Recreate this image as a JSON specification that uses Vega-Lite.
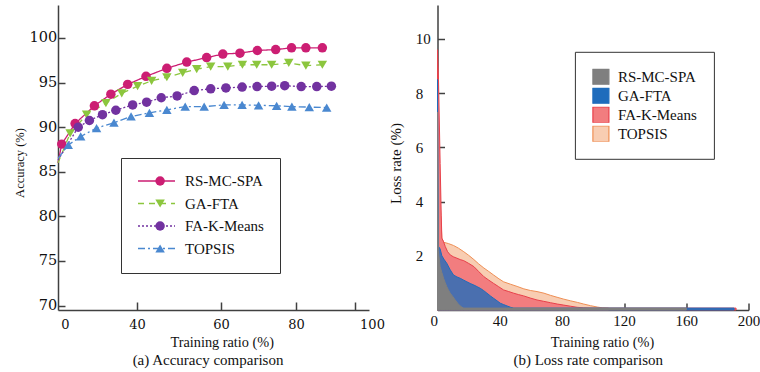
{
  "$schema": "https://vega.github.io/schema/vega-lite/v6.json",
  "padding": {"left": 13, "top": 5, "right": 0, "bottom": 0},
  "bounds": "flush",
  "spacing": 68.5,
  "config": {
    "view": {"stroke": null},
    "axis": {"domainColor": "#404040", "tickColor": "#404040", "domainWidth": 1.5, "tickWidth": 1.5, "labelColor": "#111", "titleColor": "#111", "grid": false, "labelFlush": false, "labelOverlap": false, "zindex": 1}
  },
  "datasets": {
    "acc": [
      {"series": "RS-MC-SPA", "ratio": 0, "value": 86.0},
      {"series": "RS-MC-SPA", "ratio": 1.2, "value": 88.1},
      {"series": "RS-MC-SPA", "ratio": 5.5, "value": 90.4},
      {"series": "RS-MC-SPA", "ratio": 11.7, "value": 92.4},
      {"series": "RS-MC-SPA", "ratio": 17.0, "value": 93.7},
      {"series": "RS-MC-SPA", "ratio": 22.4, "value": 94.8},
      {"series": "RS-MC-SPA", "ratio": 28.3, "value": 95.7},
      {"series": "RS-MC-SPA", "ratio": 35.0, "value": 96.6},
      {"series": "RS-MC-SPA", "ratio": 41.4, "value": 97.3},
      {"series": "RS-MC-SPA", "ratio": 47.8, "value": 97.8},
      {"series": "RS-MC-SPA", "ratio": 53.0, "value": 98.2},
      {"series": "RS-MC-SPA", "ratio": 58.5, "value": 98.3},
      {"series": "RS-MC-SPA", "ratio": 64.1, "value": 98.6},
      {"series": "RS-MC-SPA", "ratio": 70.0, "value": 98.7},
      {"series": "RS-MC-SPA", "ratio": 75.1, "value": 98.9},
      {"series": "RS-MC-SPA", "ratio": 79.7, "value": 98.9},
      {"series": "RS-MC-SPA", "ratio": 85.0, "value": 98.9},
      {"series": "GA-FTA", "ratio": 0, "value": 86.0},
      {"series": "GA-FTA", "ratio": 3.9, "value": 89.3},
      {"series": "GA-FTA", "ratio": 9.2, "value": 91.4},
      {"series": "GA-FTA", "ratio": 15.4, "value": 92.7},
      {"series": "GA-FTA", "ratio": 20.5, "value": 93.8},
      {"series": "GA-FTA", "ratio": 25.6, "value": 94.6},
      {"series": "GA-FTA", "ratio": 30.1, "value": 95.2},
      {"series": "GA-FTA", "ratio": 35.0, "value": 95.6},
      {"series": "GA-FTA", "ratio": 40.1, "value": 96.1},
      {"series": "GA-FTA", "ratio": 44.6, "value": 96.5},
      {"series": "GA-FTA", "ratio": 49.1, "value": 96.8},
      {"series": "GA-FTA", "ratio": 54.6, "value": 96.8},
      {"series": "GA-FTA", "ratio": 59.3, "value": 97.0},
      {"series": "GA-FTA", "ratio": 63.9, "value": 97.0},
      {"series": "GA-FTA", "ratio": 68.7, "value": 97.0},
      {"series": "GA-FTA", "ratio": 74.2, "value": 97.2},
      {"series": "GA-FTA", "ratio": 79.7, "value": 96.9},
      {"series": "GA-FTA", "ratio": 85.0, "value": 97.0},
      {"series": "FA-K-Means", "ratio": 0, "value": 86.3},
      {"series": "FA-K-Means", "ratio": 6.5, "value": 90.0},
      {"series": "FA-K-Means", "ratio": 10.1, "value": 90.75},
      {"series": "FA-K-Means", "ratio": 14.3, "value": 91.4},
      {"series": "FA-K-Means", "ratio": 18.6, "value": 91.9},
      {"series": "FA-K-Means", "ratio": 24.0, "value": 92.5},
      {"series": "FA-K-Means", "ratio": 28.5, "value": 92.8},
      {"series": "FA-K-Means", "ratio": 33.2, "value": 93.3},
      {"series": "FA-K-Means", "ratio": 38.3, "value": 93.5},
      {"series": "FA-K-Means", "ratio": 43.8, "value": 94.1},
      {"series": "FA-K-Means", "ratio": 49.1, "value": 94.3},
      {"series": "FA-K-Means", "ratio": 54.0, "value": 94.4},
      {"series": "FA-K-Means", "ratio": 59.2, "value": 94.5},
      {"series": "FA-K-Means", "ratio": 64.0, "value": 94.55},
      {"series": "FA-K-Means", "ratio": 68.7, "value": 94.6},
      {"series": "FA-K-Means", "ratio": 72.9, "value": 94.65},
      {"series": "FA-K-Means", "ratio": 78.2, "value": 94.55},
      {"series": "FA-K-Means", "ratio": 83.2, "value": 94.55},
      {"series": "FA-K-Means", "ratio": 87.9, "value": 94.6},
      {"series": "TOPSIS", "ratio": 0, "value": 86.5},
      {"series": "TOPSIS", "ratio": 3.3, "value": 88.0},
      {"series": "TOPSIS", "ratio": 7.3, "value": 88.96},
      {"series": "TOPSIS", "ratio": 12.4, "value": 89.9},
      {"series": "TOPSIS", "ratio": 18.0, "value": 90.5},
      {"series": "TOPSIS", "ratio": 23.5, "value": 91.2},
      {"series": "TOPSIS", "ratio": 29.4, "value": 91.6},
      {"series": "TOPSIS", "ratio": 35.0, "value": 91.95},
      {"series": "TOPSIS", "ratio": 40.9, "value": 92.3},
      {"series": "TOPSIS", "ratio": 47.0, "value": 92.3},
      {"series": "TOPSIS", "ratio": 53.4, "value": 92.5},
      {"series": "TOPSIS", "ratio": 59.2, "value": 92.5},
      {"series": "TOPSIS", "ratio": 64.5, "value": 92.45},
      {"series": "TOPSIS", "ratio": 70.3, "value": 92.4},
      {"series": "TOPSIS", "ratio": 75.2, "value": 92.3},
      {"series": "TOPSIS", "ratio": 80.8, "value": 92.25},
      {"series": "TOPSIS", "ratio": 86.4, "value": 92.2}
    ],
    "loss": [
      {"series": "TOPSIS", "ratio": 0, "value": 9.0},
      {"series": "TOPSIS", "ratio": 1.7, "value": 4.0},
      {"series": "TOPSIS", "ratio": 2.8, "value": 2.65},
      {"series": "TOPSIS", "ratio": 3.9, "value": 2.5},
      {"series": "TOPSIS", "ratio": 7, "value": 2.45},
      {"series": "TOPSIS", "ratio": 10.3, "value": 2.38},
      {"series": "TOPSIS", "ratio": 13.5, "value": 2.28},
      {"series": "TOPSIS", "ratio": 16.9, "value": 2.15},
      {"series": "TOPSIS", "ratio": 20, "value": 2.02},
      {"series": "TOPSIS", "ratio": 23.4, "value": 1.86},
      {"series": "TOPSIS", "ratio": 26.5, "value": 1.7},
      {"series": "TOPSIS", "ratio": 29.8, "value": 1.55},
      {"series": "TOPSIS", "ratio": 33, "value": 1.42},
      {"series": "TOPSIS", "ratio": 36.1, "value": 1.29},
      {"series": "TOPSIS", "ratio": 39.5, "value": 1.15},
      {"series": "TOPSIS", "ratio": 42.5, "value": 1.04},
      {"series": "TOPSIS", "ratio": 47, "value": 0.95},
      {"series": "TOPSIS", "ratio": 51.2, "value": 0.87},
      {"series": "TOPSIS", "ratio": 55.5, "value": 0.78},
      {"series": "TOPSIS", "ratio": 59.7, "value": 0.72},
      {"series": "TOPSIS", "ratio": 64, "value": 0.68},
      {"series": "TOPSIS", "ratio": 68.5, "value": 0.62},
      {"series": "TOPSIS", "ratio": 72.7, "value": 0.54},
      {"series": "TOPSIS", "ratio": 76.9, "value": 0.47},
      {"series": "TOPSIS", "ratio": 81.2, "value": 0.4},
      {"series": "TOPSIS", "ratio": 85.5, "value": 0.34},
      {"series": "TOPSIS", "ratio": 90, "value": 0.28},
      {"series": "TOPSIS", "ratio": 94, "value": 0.22},
      {"series": "TOPSIS", "ratio": 98.4, "value": 0.16},
      {"series": "TOPSIS", "ratio": 102.7, "value": 0.11},
      {"series": "TOPSIS", "ratio": 106, "value": 0.08},
      {"series": "TOPSIS", "ratio": 110, "value": 0.07},
      {"series": "FA-K-Means", "ratio": 0, "value": 9.6},
      {"series": "FA-K-Means", "ratio": 0.64, "value": 8.5},
      {"series": "FA-K-Means", "ratio": 1.7, "value": 5.4},
      {"series": "FA-K-Means", "ratio": 2.4, "value": 3.5},
      {"series": "FA-K-Means", "ratio": 2.8, "value": 2.65},
      {"series": "FA-K-Means", "ratio": 3.9, "value": 2.52},
      {"series": "FA-K-Means", "ratio": 5, "value": 2.34},
      {"series": "FA-K-Means", "ratio": 6.5, "value": 2.15},
      {"series": "FA-K-Means", "ratio": 8.2, "value": 2.03},
      {"series": "FA-K-Means", "ratio": 10.3, "value": 1.96},
      {"series": "FA-K-Means", "ratio": 12.5, "value": 1.91},
      {"series": "FA-K-Means", "ratio": 14.6, "value": 1.86},
      {"series": "FA-K-Means", "ratio": 16.9, "value": 1.82},
      {"series": "FA-K-Means", "ratio": 20, "value": 1.72},
      {"series": "FA-K-Means", "ratio": 23.4, "value": 1.6},
      {"series": "FA-K-Means", "ratio": 26.5, "value": 1.42},
      {"series": "FA-K-Means", "ratio": 29.8, "value": 1.23},
      {"series": "FA-K-Means", "ratio": 33, "value": 1.1},
      {"series": "FA-K-Means", "ratio": 36.1, "value": 0.98},
      {"series": "FA-K-Means", "ratio": 39.3, "value": 0.86},
      {"series": "FA-K-Means", "ratio": 42.5, "value": 0.74},
      {"series": "FA-K-Means", "ratio": 45.8, "value": 0.68},
      {"series": "FA-K-Means", "ratio": 49, "value": 0.62},
      {"series": "FA-K-Means", "ratio": 52, "value": 0.57},
      {"series": "FA-K-Means", "ratio": 55.4, "value": 0.52},
      {"series": "FA-K-Means", "ratio": 59.7, "value": 0.44},
      {"series": "FA-K-Means", "ratio": 64, "value": 0.37},
      {"series": "FA-K-Means", "ratio": 68.3, "value": 0.32},
      {"series": "FA-K-Means", "ratio": 72.6, "value": 0.27},
      {"series": "FA-K-Means", "ratio": 77, "value": 0.22},
      {"series": "FA-K-Means", "ratio": 81.2, "value": 0.18},
      {"series": "FA-K-Means", "ratio": 85.5, "value": 0.14},
      {"series": "FA-K-Means", "ratio": 89.8, "value": 0.1},
      {"series": "FA-K-Means", "ratio": 94, "value": 0.08},
      {"series": "FA-K-Means", "ratio": 100, "value": 0.07},
      {"series": "FA-K-Means", "ratio": 150, "value": 0.07},
      {"series": "FA-K-Means", "ratio": 192, "value": 0.07},
      {"series": "GA-FTA", "ratio": 0, "value": 8.5},
      {"series": "GA-FTA", "ratio": 0.6, "value": 2.35},
      {"series": "GA-FTA", "ratio": 1.7, "value": 2.25},
      {"series": "GA-FTA", "ratio": 2.8, "value": 2.0},
      {"series": "GA-FTA", "ratio": 4.4, "value": 1.85},
      {"series": "GA-FTA", "ratio": 6, "value": 1.72},
      {"series": "GA-FTA", "ratio": 8.2, "value": 1.48},
      {"series": "GA-FTA", "ratio": 10.3, "value": 1.29},
      {"series": "GA-FTA", "ratio": 12.5, "value": 1.22},
      {"series": "GA-FTA", "ratio": 14.6, "value": 1.17},
      {"series": "GA-FTA", "ratio": 16.9, "value": 1.1},
      {"series": "GA-FTA", "ratio": 18.9, "value": 1.04},
      {"series": "GA-FTA", "ratio": 21, "value": 0.98},
      {"series": "GA-FTA", "ratio": 23.4, "value": 0.92},
      {"series": "GA-FTA", "ratio": 25.5, "value": 0.86},
      {"series": "GA-FTA", "ratio": 27.5, "value": 0.8},
      {"series": "GA-FTA", "ratio": 29.6, "value": 0.72},
      {"series": "GA-FTA", "ratio": 31.8, "value": 0.62},
      {"series": "GA-FTA", "ratio": 34, "value": 0.52},
      {"series": "GA-FTA", "ratio": 36.1, "value": 0.43},
      {"series": "GA-FTA", "ratio": 38.3, "value": 0.34},
      {"series": "GA-FTA", "ratio": 40.4, "value": 0.25},
      {"series": "GA-FTA", "ratio": 42.5, "value": 0.2},
      {"series": "GA-FTA", "ratio": 44.7, "value": 0.15},
      {"series": "GA-FTA", "ratio": 47, "value": 0.1},
      {"series": "GA-FTA", "ratio": 49, "value": 0.07},
      {"series": "GA-FTA", "ratio": 120, "value": 0.07},
      {"series": "GA-FTA", "ratio": 190.7, "value": 0.07},
      {"series": "RS-MC-SPA", "ratio": 0, "value": 7.3},
      {"series": "RS-MC-SPA", "ratio": 0.5, "value": 2.2},
      {"series": "RS-MC-SPA", "ratio": 1.7, "value": 1.6},
      {"series": "RS-MC-SPA", "ratio": 2.8, "value": 1.38},
      {"series": "RS-MC-SPA", "ratio": 3.9, "value": 1.17},
      {"series": "RS-MC-SPA", "ratio": 5, "value": 1.0},
      {"series": "RS-MC-SPA", "ratio": 6, "value": 0.86},
      {"series": "RS-MC-SPA", "ratio": 7, "value": 0.74},
      {"series": "RS-MC-SPA", "ratio": 8.2, "value": 0.62},
      {"series": "RS-MC-SPA", "ratio": 9.8, "value": 0.5},
      {"series": "RS-MC-SPA", "ratio": 11.4, "value": 0.37},
      {"series": "RS-MC-SPA", "ratio": 13, "value": 0.25},
      {"series": "RS-MC-SPA", "ratio": 14.6, "value": 0.15},
      {"series": "RS-MC-SPA", "ratio": 15.8, "value": 0.1},
      {"series": "RS-MC-SPA", "ratio": 16.9, "value": 0.07},
      {"series": "RS-MC-SPA", "ratio": 100, "value": 0.07},
      {"series": "RS-MC-SPA", "ratio": 160, "value": 0.07}
    ]
  },
  "hconcat": [
    {
      "width": 311,
      "height": 305,
      "data": {"name": "acc"},
      "title": {"text": "(a) Accuracy comparison", "orient": "bottom", "frame": "group", "anchor": "middle", "dx": -5.5, "offset": 4, "font": "Liberation Serif", "fontSize": 15, "fontWeight": "normal", "color": "#111"},
      "encoding": {
        "x": {
          "field": "ratio", "type": "quantitative",
          "scale": {"domain": [0, 100], "nice": false, "zero": false},
          "axis": {
            "values": [2.25, 25.4, 52.4, 76.5, 95.5],
            "labelExpr": "datum.value < 10 ? '0' : datum.value < 40 ? '40' : datum.value < 60 ? '60' : datum.value < 90 ? '80' : '100'",
            "tickOpacity": {"condition": {"test": "datum.value < 10", "value": 0}, "value": 1},
            "labelOffset": {"condition": {"test": "datum.value > 90", "value": 17}, "value": 0},
            "title": "Training ratio (%)", "titleX": 163.7, "titleY": 36, "titleBaseline": "alphabetic", "titleAlign": "center",
            "titleFont": "Liberation Serif", "titleFontSize": 14.3, "titleFontWeight": "normal",
            "labelFont": "DejaVu Serif", "labelFontSize": 13, "tickSize": -8, "labelPadding": 16.5
          }
        },
        "y": {
          "field": "value", "type": "quantitative",
          "scale": {"domain": [69.5, 103.7], "nice": false, "zero": false},
          "axis": {
            "values": [70, 75, 80, 85, 90, 95, 100],
            "title": "Accuracy (%)", "titleX": -39, "titleY": 157.5, "titleBaseline": "middle", "titleAlign": "center", "titleAngle": -90,
            "titleFont": "Liberation Serif", "titleFontSize": 12.5, "titleFontWeight": "normal",
            "labelFont": "DejaVu Serif", "labelFontSize": 14.5, "tickSize": -7, "labelPadding": 8.3
          }
        }
      },
      "layer": [
        {
          "mark": {"type": "line", "strokeWidth": 1.3},
          "encoding": {
            "color": {
              "field": "series", "type": "nominal",
              "scale": {"domain": ["RS-MC-SPA", "GA-FTA", "FA-K-Means", "TOPSIS"], "range": ["#cc1e73", "#8cc63e", "#7232a0", "#4a88d0"]},
              "legend": {"orient": "none", "legendX": 63, "legendY": 153, "title": null, "symbolType": "stroke", "symbolSize": 1369, "symbolStrokeWidth": 1.3, "labelFont": "Liberation Serif", "labelFontSize": 15, "labelColor": "#111", "labelOffset": 9, "padding": 16, "strokeColor": "#333", "rowPadding": 7.5, "clipHeight": 14}
            },
            "strokeDash": {
              "field": "series", "type": "nominal",
              "scale": {"domain": ["RS-MC-SPA", "GA-FTA", "FA-K-Means", "TOPSIS"], "range": [[1, 0], [6, 5], [2, 2], [7, 3, 2, 3]]},
              "legend": {"orient": "none", "legendX": 63, "legendY": 153, "title": null, "symbolType": "stroke", "symbolSize": 1369, "symbolStrokeWidth": 1.3, "labelFont": "Liberation Serif", "labelFontSize": 15, "labelColor": "#111", "labelOffset": 9, "padding": 16, "strokeColor": "#333", "rowPadding": 7.5, "clipHeight": 14}
            }
          }
        },
        {
          "transform": [{"filter": "datum.ratio > 0"}],
          "mark": {"type": "point", "filled": true, "size": 90, "opacity": 1},
          "encoding": {
            "color": {
              "field": "series", "type": "nominal",
              "scale": {"domain": ["RS-MC-SPA", "GA-FTA", "FA-K-Means", "TOPSIS"], "range": ["#cc1e73", "#8cc63e", "#7232a0", "#4a88d0"]},
              "legend": {"orient": "none", "legendX": 78.6, "legendY": 153, "title": null, "symbolSize": 90, "symbolStrokeWidth": 0, "labelFont": "Liberation Serif", "labelFontSize": 15, "labelExpr": "''", "labelOffset": 9, "padding": 16, "rowPadding": 7.5, "clipHeight": 14}
            },
            "shape": {
              "field": "series", "type": "nominal",
              "scale": {"domain": ["RS-MC-SPA", "GA-FTA", "FA-K-Means", "TOPSIS"], "range": ["circle", "triangle-down", "circle", "triangle-up"]},
              "legend": {"orient": "none", "legendX": 78.6, "legendY": 153, "title": null, "symbolSize": 90, "symbolStrokeWidth": 0, "labelFont": "Liberation Serif", "labelFontSize": 15, "labelExpr": "''", "labelOffset": 9, "padding": 16, "rowPadding": 7.5, "clipHeight": 14}
            }
          }
        }
      ],
      "resolve": {"legend": {"color": "independent", "shape": "independent", "strokeDash": "independent"}}
    },
    {
      "width": 311,
      "height": 305,
      "data": {"name": "loss"},
      "title": {"text": "(b) Loss rate comparison", "orient": "bottom", "frame": "group", "anchor": "middle", "dx": -4.8, "offset": 4, "font": "Liberation Serif", "fontSize": 15, "fontWeight": "normal", "color": "#111"},
      "encoding": {
        "x": {
          "field": "ratio", "type": "quantitative",
          "scale": {"domain": [0, 200], "nice": false, "zero": false},
          "axis": {
            "values": [0, 40, 80, 120, 160, 200],
            "labelAlign": {"condition": {"test": "datum.value === 0", "value": "right"}, "value": "center"},
            "title": "Training ratio (%)", "titleX": 164.4, "titleY": 36, "titleBaseline": "alphabetic", "titleAlign": "center",
            "titleFont": "Liberation Serif", "titleFontSize": 14.3, "titleFontWeight": "normal",
            "labelFont": "Liberation Serif", "labelFontSize": 15, "tickSize": -7, "labelPadding": 10.3
          }
        },
        "y": {
          "field": "value", "type": "quantitative",
          "scale": {"domain": [0, 11.25], "nice": false, "zero": false},
          "stack": null,
          "axis": {
            "values": [2, 4, 6, 8, 10],
            "title": "Loss rate (%)", "titleX": -42.3, "titleY": 158, "titleBaseline": "middle", "titleAlign": "center", "titleAngle": -90,
            "titleFont": "Liberation Serif", "titleFontSize": 15, "titleFontWeight": "normal",
            "labelFont": "Liberation Serif", "labelFontSize": 15, "labelAlign": "left", "tickSize": -7, "labelPadding": 29.3
          }
        },
        "fill": {
          "field": "series", "type": "nominal",
          "scale": {"domain": ["RS-MC-SPA", "GA-FTA", "FA-K-Means", "TOPSIS"], "range": ["#7f7f7f", "#1f6cbc", "#f27d7f", "#f8cdb2"]},
          "legend": {"orient": "none", "legendX": 516.9, "legendY": 46.8, "title": null, "symbolType": "square", "symbolSize": 256, "symbolStrokeWidth": 1.2, "symbolOpacity": 1, "labelFont": "Liberation Serif", "labelFontSize": 15, "labelColor": "#111", "labelOffset": 8, "padding": 17, "strokeColor": "#333", "rowPadding": 3, "clipHeight": 16}
        },
        "stroke": {
          "field": "series", "type": "nominal",
          "scale": {"domain": ["RS-MC-SPA", "GA-FTA", "FA-K-Means", "TOPSIS"], "range": ["#7f7f7f", "#1f6cbc", "#e8404a", "#ef8f55"]},
          "legend": {"orient": "none", "legendX": 516.9, "legendY": 46.8, "title": null, "symbolType": "square", "symbolSize": 256, "symbolStrokeWidth": 1.2, "symbolOpacity": 1, "labelFont": "Liberation Serif", "labelFontSize": 15, "labelColor": "#111", "labelOffset": 8, "padding": 17, "strokeColor": "#333", "rowPadding": 3, "clipHeight": 16}
        },
        "fillOpacity": {"condition": {"test": "datum.series === 'GA-FTA'", "value": 0.8}, "value": 1}
      },
      "layer": [
        {"transform": [{"filter": "datum.series === 'TOPSIS'"}], "mark": {"type": "area", "strokeWidth": 1, "interpolate": "linear"}},
        {"transform": [{"filter": "datum.series === 'FA-K-Means'"}], "mark": {"type": "area", "strokeWidth": 1, "interpolate": "linear"}},
        {"transform": [{"filter": "datum.series === 'GA-FTA'"}], "mark": {"type": "area", "strokeWidth": 1, "interpolate": "linear"}},
        {"transform": [{"filter": "datum.series === 'RS-MC-SPA'"}], "mark": {"type": "area", "strokeWidth": 1, "interpolate": "linear"}}
      ]
    }
  ]
}
